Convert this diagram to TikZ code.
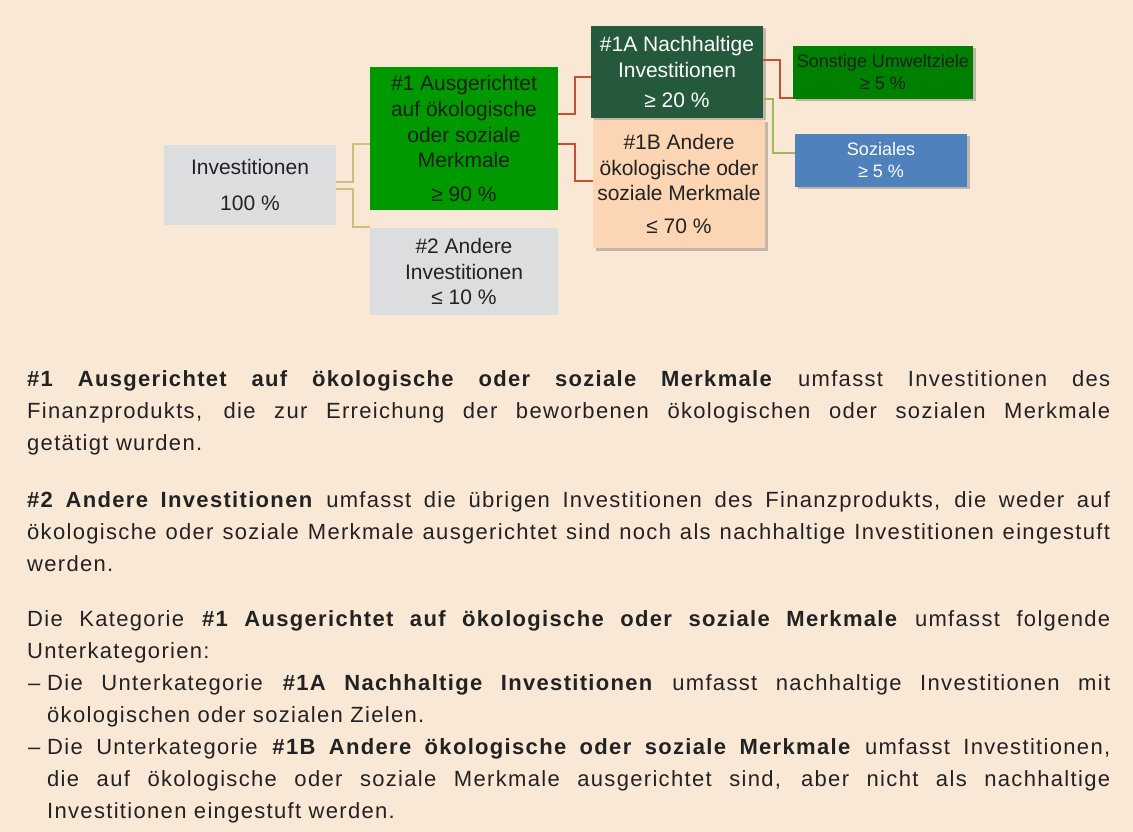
\documentclass[tikz,border=0pt]{standalone}
\usepackage{fontspec}
\setmainfont{Liberation Sans}
\newfontfamily\bodyfont[LetterSpace=6]{Liberation Sans}
\usetikzlibrary{shadows}
\definecolor{bg}{HTML}{FAE8D6}
\definecolor{greybox}{HTML}{DCDDDE}
\definecolor{greenA}{HTML}{009900}
\definecolor{darkgreen}{HTML}{24593B}
\definecolor{peach}{HTML}{FCD5B4}
\definecolor{greenB}{HTML}{008000}
\definecolor{bluebox}{HTML}{4F81BD}
\definecolor{txt}{HTML}{222222}
\definecolor{connred}{HTML}{C65130}
\definecolor{connolive}{HTML}{CCC07A}
\definecolor{conngreen}{HTML}{9BBB59}
\tikzset{
  box/.style={rectangle, inner sep=0pt, align=center, text=txt,
    font=\fontsize{21}{25.7}\selectfont},
  smallbox/.style={box, font=\fontsize{18}{22}\selectfont},
  shadowed/.style={drop shadow={shadow xshift=2.5pt, shadow yshift=-2.5pt, opacity=0.22, fill=black}},
  conn/.style={line width=2.2pt},
  para/.style={inner sep=0pt, anchor=base west, text=txt,
    font=\bodyfont\fontsize{22}{32}\selectfont},
}
\begin{document}
\begin{tikzpicture}[x=1pt,y=-1pt]
\useasboundingbox (0,0) rectangle (1133,832);
\fill[bg] (0,0) rectangle (1133,832);

% boxes
\node[box, fill=greybox, minimum width=172pt, minimum height=80pt] (inv) at (250,185)
  {Investitionen\\[10pt]100 \%};
\node[box, fill=greenA, text=black!88, minimum width=188pt, minimum height=143pt] (a1) at (464,138.5)
  {\#1 Ausgerichtet\\auf ökologische\\oder soziale\\Merkmale\\[8pt]≥ 90 \%};
\node[box, fill=greybox, minimum width=188pt, minimum height=87pt] (a2) at (464,271.5)
  {\#2 Andere\\Investitionen\\≤ 10 \%};
\node[box, shadowed, fill=darkgreen, text=white, minimum width=172pt, minimum height=92pt] (n1a) at (677,72)
  {\#1A Nachhaltige\\Investitionen\\[4pt]≥ 20 \%};
\node[box, shadowed, fill=peach, minimum width=172pt, minimum height=128pt] (n1b) at (679,184)
  {\#1B Andere\\ökologische oder\\soziale Merkmale\\[7pt]≤ 70 \%};
\node[smallbox, shadowed, fill=greenB, text=black!88, minimum width=180pt, minimum height=53pt] (son) at (883,72.5)
  {Sonstige Umweltziele\\≥ 5 \%};
\node[smallbox, shadowed, fill=bluebox, text=white, minimum width=172pt, minimum height=53pt] (soz) at (881,160.5)
  {Soziales\\≥ 5 \%};

% connectors
\draw[conn, connolive] (inv.east |- 0,182) -| (353,144) -- (a1.west |- 0,144);
\draw[conn, connolive] (inv.east |- 0,189) -| (353,227) -- (a2.west |- 0,227);
\draw[conn, connred] (a1.east |- 0,114) -| (575,77) -- (n1a.west |- 0,77);
\draw[conn, connred] (a1.east |- 0,144) -| (575,181) -- (n1b.west |- 0,181);
\draw[conn, connred] (n1a.east |- 0,60) -| (780,98) -- (son.west |- 0,98);
\draw[conn, conngreen] (n1a.east |- 0,99) -| (773,153) -- (soz.west |- 0,153);

% text paragraphs
\node[para] (p1a) at (27,386) {\makebox[1083pt][s]{\textbf{\#1 Ausgerichtet auf ökologische oder soziale Merkmale} umfasst Investitionen des}};
\node[para] (p1b) at (27,418) {\makebox[1083pt][s]{Finanzprodukts, die zur Erreichung der beworbenen ökologischen oder sozialen Merkmale}};
\node[para] (p1c) at (27,450) {getätigt wurden.};

\node[para] (p2a) at (27,507) {\makebox[1083pt][s]{\textbf{\#2 Andere Investitionen} umfasst die übrigen Investitionen des Finanzprodukts, die weder auf}};
\node[para] (p2b) at (27,539) {\makebox[1083pt][s]{ökologische oder soziale Merkmale ausgerichtet sind noch als nachhaltige Investitionen eingestuft}};
\node[para] (p2c) at (27,571) {werden.};

\node[para] (p3a) at (27,626) {\makebox[1083pt][s]{Die Kategorie \textbf{\#1 Ausgerichtet auf ökologische oder soziale Merkmale} umfasst folgende}};
\node[para] (p3b) at (27,658) {Unterkategorien:};
\node[para] (d1) at (28,690) {–};
\node[para] (p3c) at (47,690) {\makebox[1063pt][s]{Die Unterkategorie \textbf{\#1A Nachhaltige Investitionen} umfasst nachhaltige Investitionen mit}};
\node[para] (p3d) at (47,722) {ökologischen oder sozialen Zielen.};
\node[para] (d2) at (28,754) {–};
\node[para] (p3e) at (47,754) {\makebox[1063pt][s]{Die Unterkategorie \textbf{\#1B Andere ökologische oder soziale Merkmale} umfasst Investitionen,}};
\node[para] (p3f) at (47,786) {\makebox[1063pt][s]{die auf ökologische oder soziale Merkmale ausgerichtet sind, aber nicht als nachhaltige}};
\node[para] (p3g) at (47,818) {Investitionen eingestuft werden.};
\end{tikzpicture}
\end{document}
